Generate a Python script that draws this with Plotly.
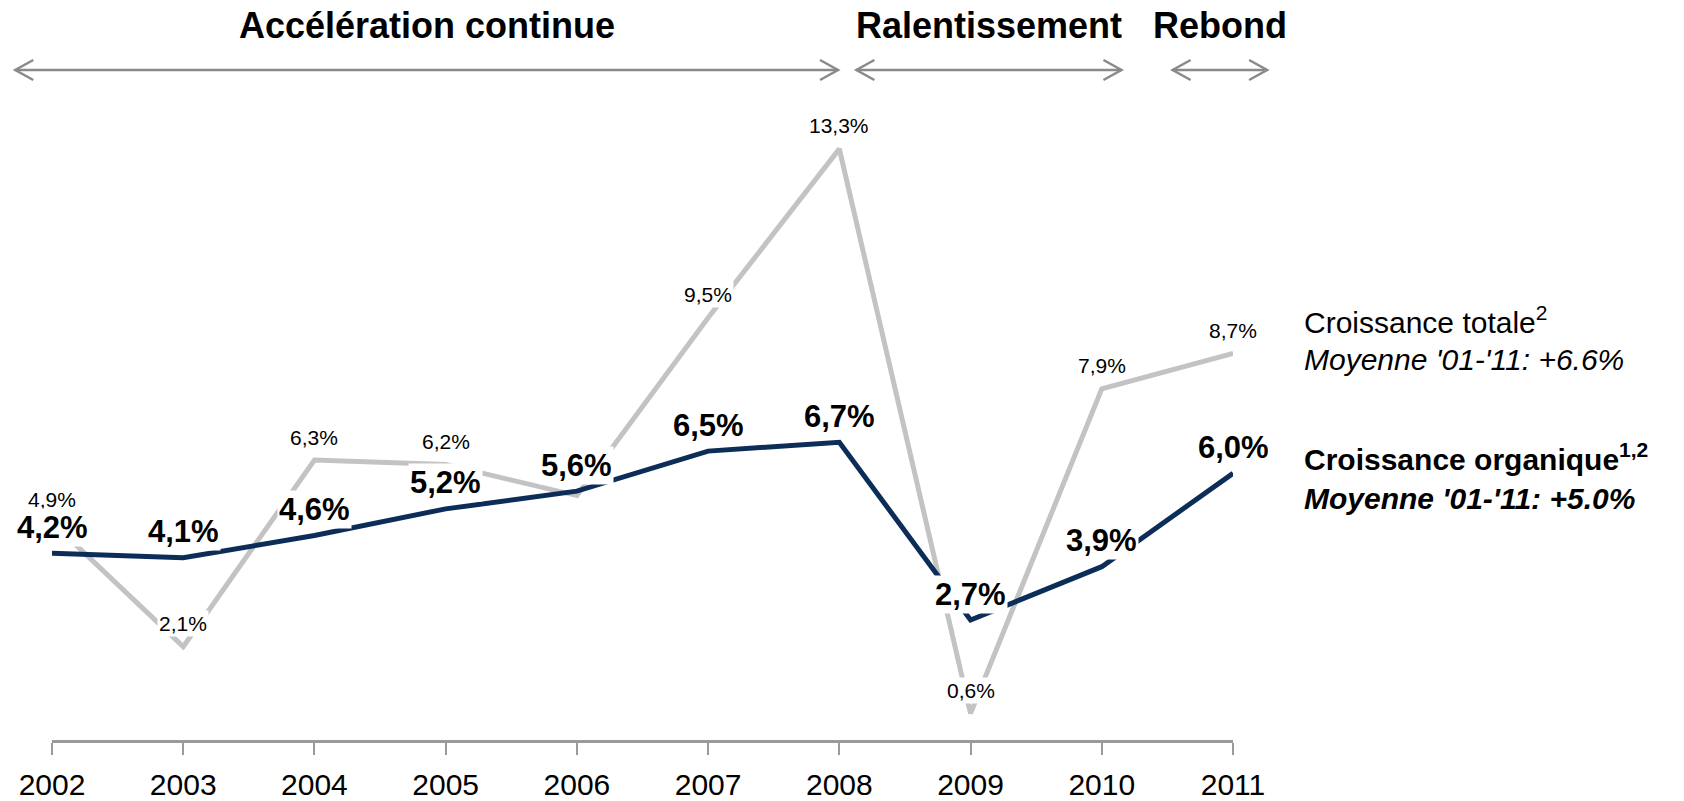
import plotly.graph_objects as go

# Series values (growth, %)
years = [2002, 2003, 2004, 2005, 2006, 2007, 2008, 2009, 2010, 2011]
organic_growth = [4.2, 4.1, 4.6, 5.2, 5.6, 6.5, 6.7, 2.7, 3.9, 6.0]
total_growth = [4.9, 2.1, 6.3, 6.2, 5.5, 9.5, 13.3, 0.6, 7.9, 8.7]
tick_labels = [str(y) for y in years]

# Years whose total-growth label sits under an organic label and is left out
hidden_total_labels = [2006]

# Phases shown above the chart: (title, start year, end year)
phases = [
    ("Accélération continue", 2001.72, 2007.99),
    ("Ralentissement", 2008.13, 2010.15),
    ("Rebond", 2010.54, 2011.26),
]

NAVY = "#0c2d57"
GREY = "#c3c3c3"
ARROW = "#8a8a8a"
FONT = "Liberation Sans, Arial, sans-serif"

W, H = 1684, 801
L, R, T, B = 52, 451, 100, 61
plot_w = W - L - R
plot_h = H - T - B
Y_MAX = 14.4


def fr_pct(v):
    return f"{v:.1f}".replace(".", ",") + "%"


def year_to_paper(yr):
    return (yr - years[0]) / (years[-1] - years[0])


def px_to_paper_y(py):
    return (H - B - py) / plot_h


fig = go.Figure()

fig.add_trace(go.Scatter(
    x=years, y=total_growth, mode="lines",
    line=dict(color=GREY, width=5), hoverinfo="skip", showlegend=False,
))
fig.add_trace(go.Scatter(
    x=years, y=organic_growth, mode="lines",
    line=dict(color=NAVY, width=5), hoverinfo="skip", showlegend=False,
))

annotations = []

# Value labels: total growth first, organic growth on top
for yr, v in zip(years, total_growth):
    if yr in hidden_total_labels:
        continue
    annotations.append(dict(
        x=yr, y=v, xref="x", yref="y", text=fr_pct(v), showarrow=False,
        yshift=23, bgcolor="white", borderpad=1,
        font=dict(family=FONT, size=21, color="black"),
    ))
for yr, v in zip(years, organic_growth):
    annotations.append(dict(
        x=yr, y=v, xref="x", yref="y", text=f"<b>{fr_pct(v)}</b>", showarrow=False,
        yshift=26, bgcolor="white", borderpad=1,
        font=dict(family=FONT, size=31, color="black"),
    ))

# Phase titles and double-headed arrows
arrow_y = px_to_paper_y(70)
title_y = px_to_paper_y(25)
shapes = []
for title, x0, x1 in phases:
    p0, p1 = year_to_paper(x0), year_to_paper(x1)
    annotations.append(dict(
        x=(p0 + p1) / 2, y=title_y, xref="paper", yref="paper",
        text=f"<b>{title}</b>", showarrow=False, xanchor="center", yanchor="middle",
        font=dict(family=FONT, size=36, color="black"),
    ))
    shapes.append(dict(
        type="line", xref="paper", yref="paper", x0=p0, x1=p1, y0=arrow_y, y1=arrow_y,
        line=dict(color=ARROW, width=2.5),
    ))
    for anchor, sign in ((p0, 1), (p1, -1)):
        shapes.append(dict(
            type="path", xref="paper", yref="paper",
            xsizemode="pixel", ysizemode="pixel", xanchor=anchor, yanchor=arrow_y,
            path=f"M {sign * 18},10 L 0,0 L {sign * 18},-10",
            line=dict(color=ARROW, width=2.5),
        ))

# Series descriptions on the right
legend_x = (1302 - L) / plot_w
legend_lines = [
    ("Croissance totale<sup>2</sup>", 320),
    ("<i>Moyenne '01-'11: +6.6%</i>", 359),
    ("<b>Croissance organique<sup>1,2</sup></b>", 457),
    ("<b><i>Moyenne '01-'11: +5.0%</i></b>", 498),
]
for text, py in legend_lines:
    annotations.append(dict(
        x=legend_x, y=px_to_paper_y(py), xref="paper", yref="paper",
        text=text, showarrow=False, xanchor="left", yanchor="middle",
        font=dict(family=FONT, size=30, color="black"),
    ))

fig.update_layout(
    width=W, height=H,
    margin=dict(l=L, r=R, t=T, b=B, pad=0, autoexpand=False),
    paper_bgcolor="white", plot_bgcolor="white",
    showlegend=False,
    annotations=annotations,
    shapes=shapes,
    xaxis=dict(
        range=[years[0], years[-1]],
        tickmode="array", tickvals=years, ticktext=tick_labels,
        showgrid=False, zeroline=False, automargin=False,
        showline=True, linecolor="#9a9a9a", linewidth=2.5,
        ticks="outside", ticklen=12, tickcolor="#9a9a9a", tickwidth=1.5,
        ticklabelstandoff=4,
        tickfont=dict(family=FONT, size=30, color="black"),
        fixedrange=True,
    ),
    yaxis=dict(range=[0, Y_MAX], visible=False, fixedrange=True, automargin=False),
)

fig.write_html("out.html")
